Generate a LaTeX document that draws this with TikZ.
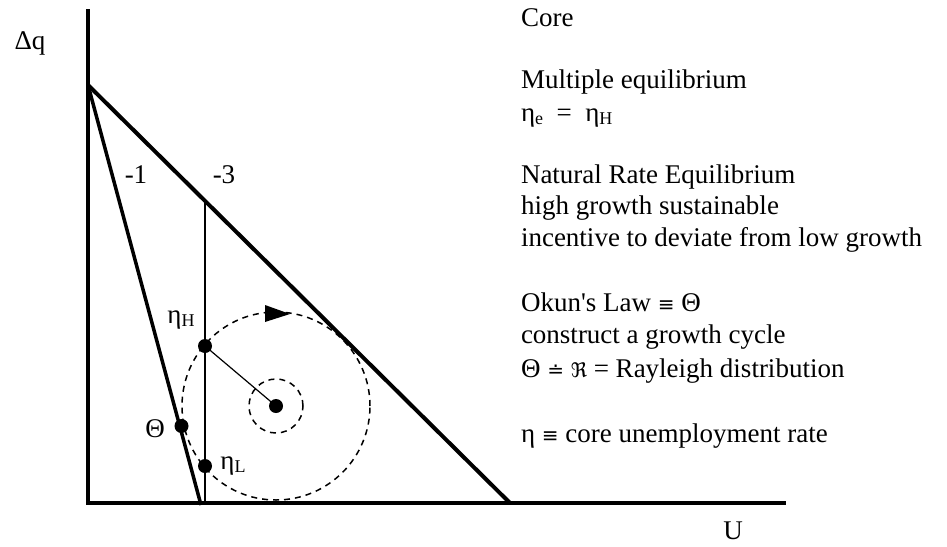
\documentclass[tikz,border=0pt]{standalone}
\usepackage{fontspec}
\setmainfont{Liberation Serif}
\newfontfamily\symf{DejaVu Sans}
\newcommand{\symch}[1]{{\symf\fontsize{20}{20}\selectfont #1}}
\newcommand{\lowsub}[1]{\raisebox{-3pt}{\fontsize{18}{18}\selectfont #1}}
\begin{document}
\begin{tikzpicture}[x=1pt,y=-1pt,
  txt/.style={inner sep=0pt, outer sep=0pt, font=\fontsize{27}{31}\selectfont},
  rtxt/.style={txt, anchor=base west},
  axisline/.style={line width=4pt},
  thickline/.style={line width=4pt},
  midline/.style={line width=3.5pt},
  thinline/.style={line width=1.8pt},
  radline/.style={line width=1.2pt},
  dashc/.style={line width=1.5pt, dash pattern=on 6pt off 5pt},
  dot/.style={circle, fill=black, minimum size=14pt, inner sep=0pt}]
\useasboundingbox (0,0) rectangle (947,546);
% axes and lines
\coordinate (Ytop) at (88,9);
\coordinate (O) at (88,503);
\coordinate (Xend) at (786,503);
\coordinate (A) at (88,85);
\coordinate (B3) at (510,503);
\coordinate (B1) at (201,505);
\coordinate (Vtop) at (205,201);
\coordinate (Vbot) at (205,503);
\coordinate (C) at (276,406);
\draw[axisline] (Ytop) -- (O) -- (Xend);
\draw[thickline] (A) -- (B3);
\draw[midline] (A) -- (B1);
\draw[thinline] (Vtop) -- (Vbot);
% circles
\draw[dashc] (C) circle[radius=94pt];
\draw[dashc] (C) circle[radius=27pt];
\fill (265,305) -- (290,314) -- (265,322) -- cycle;
% dots
\node[dot] (dH) at (205,346) {};
\node[dot] (dL) at (205,466) {};
\node[dot] (dT) at (181.5,426) {};
\node[dot] (dC) at (C) {};
\draw[radline] (dH.center) -- (dC.center);
% labels
\node[txt] (lq) at (30,43) {Δq};
\node[txt] (lm1) at (136,175) {-1};
\node[txt] (lm3) at (224,175) {-3};
\node[txt] (lH) at (181,320) {η\lowsub{H}};
\node[txt] (lL) at (233,466) {η\lowsub{L}};
\node[txt] (lT) at (155,429) {Θ};
\node[txt] (lU) at (733,531) {U};
% right text
\node[rtxt] (t1) at (521,27) {Core};
\node[rtxt] (t2) at (521,88) {Multiple equilibrium};
\node[rtxt] (t3) at (521,121) {η\lowsub{e}\ \ =\ \ η\lowsub{H}};
\node[rtxt] (t4) at (521,183) {Natural Rate Equilibrium};
\node[rtxt] (t5) at (521,214) {high growth sustainable};
\node[rtxt] (t6) at (521,246) {incentive to deviate from low growth};
\node[rtxt] (t7) at (521,311) {Okun\textquotesingle s Law \symch{≡} Θ};
\node[rtxt] (t8) at (521,343) {construct a growth cycle};
\node[rtxt] (t9) at (521,377) {Θ \symch{≐} \symch{ℜ} = Rayleigh distribution};
\node[rtxt] (t10) at (521,442) {η \symch{≡} core unemployment rate};
\end{tikzpicture}
\end{document}
